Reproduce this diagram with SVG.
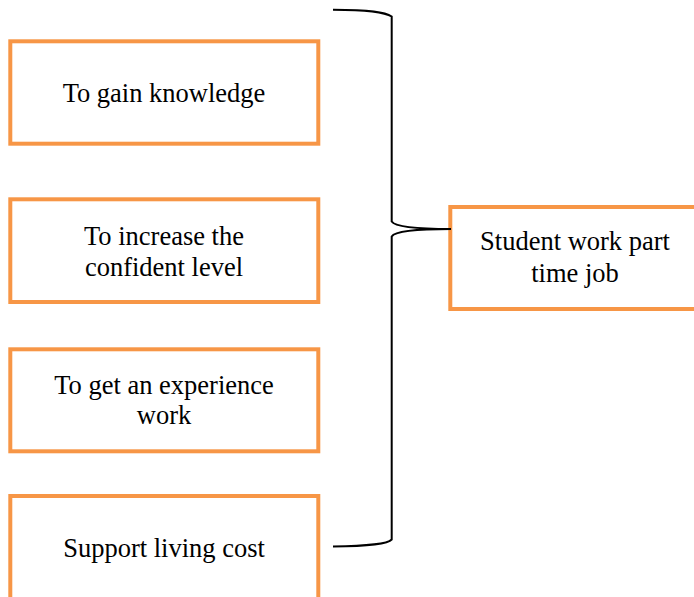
<svg xmlns="http://www.w3.org/2000/svg" width="694" height="597" viewBox="0 0 694 597">
<style>
.box{fill:#fff;stroke:#f79646;stroke-width:4;}
.t{font-family:"Liberation Serif","Times New Roman",serif;font-size:26.5px;fill:#000;text-anchor:middle;}
.br{fill:none;stroke:#000;stroke-width:2;}
</style>
<rect width="694" height="597" fill="#fff"/>
<g id="n1"><rect class="box" x="10.3" y="41.3" width="308" height="102.4"/><text class="t" x="164" y="101.7">To gain knowledge</text></g>
<g id="n2"><rect class="box" x="10.3" y="199.3" width="308" height="102.7"/><text class="t" x="164" y="245">To increase the</text><text class="t" x="164" y="276">confident level</text></g>
<g id="n3"><rect class="box" x="10.3" y="349.3" width="308" height="102"/><text class="t" x="164" y="394">To get an experience</text><text class="t" x="164" y="424">work</text></g>
<g id="n4"><rect class="box" x="10.3" y="496" width="308" height="110"/><text class="t" x="164" y="556.7">Support living cost</text></g>
<g id="n5"><rect class="box" x="450.3" y="207" width="260" height="102"/><text class="t" x="575" y="250">Student work part</text><text class="t" x="575" y="282">time job</text></g>
<g id="connectors">
<path class="br" d="M333,9.7 C370,10 385,12 391.7,16.5 L391.7,221.5 C395,227 420,229 451,229 C420,229 395,231 391.7,236.5 L391.7,539.5 C388,544 370,546 333,546.5"/>
</g>
</svg>
